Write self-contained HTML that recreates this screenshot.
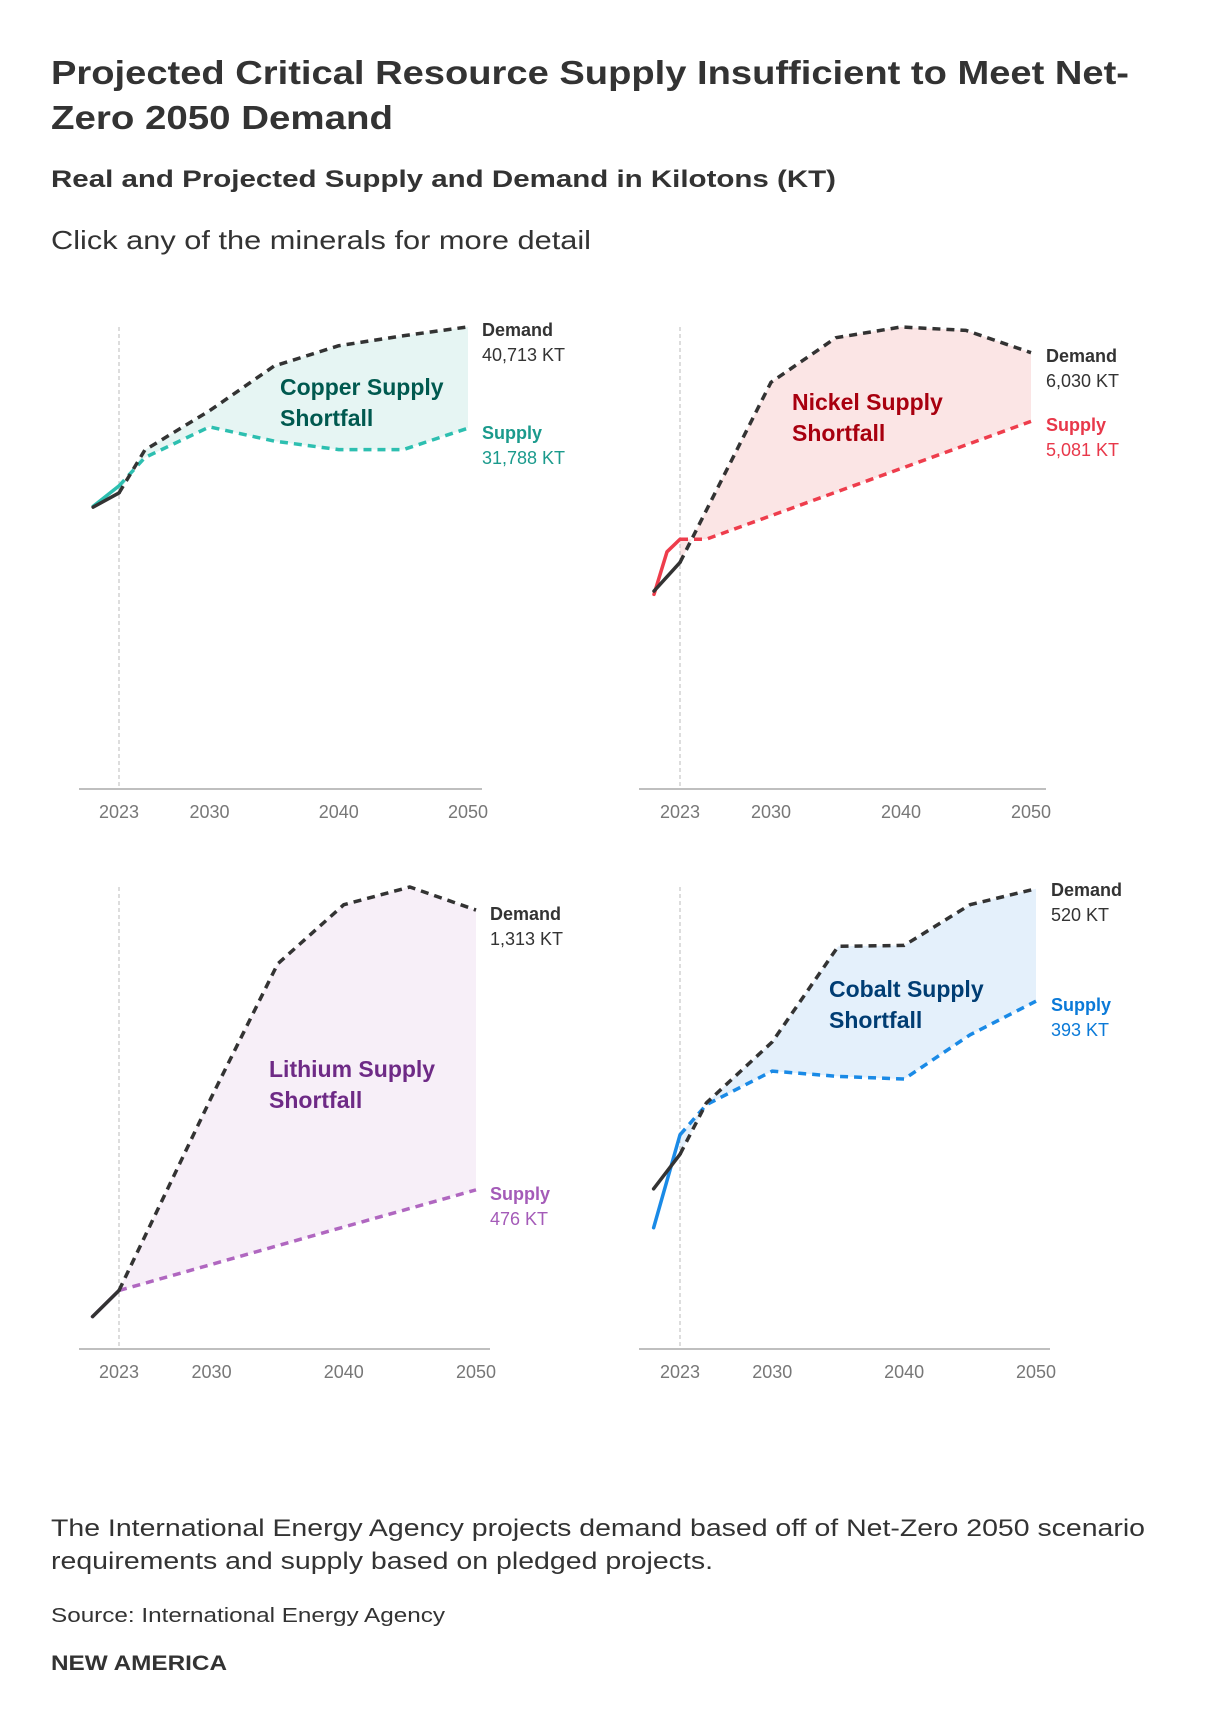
<!DOCTYPE html>
<html><head><meta charset="utf-8"><style>
body{margin:0;background:#fff;}
svg text{font-family:"Liberation Sans",sans-serif;}
</style></head><body>
<svg id="page" width="1220" height="1726" viewBox="0 0 1220 1726" xmlns="http://www.w3.org/2000/svg">
<rect width="1220" height="1726" fill="#fff"/>
<text x="51" y="84" font-size="33" font-weight="bold" fill="#333" textLength="1078" lengthAdjust="spacingAndGlyphs">Projected Critical Resource Supply Insufficient to Meet Net-</text>
<text x="51" y="129" font-size="33" font-weight="bold" fill="#333" textLength="342" lengthAdjust="spacingAndGlyphs">Zero 2050 Demand</text>
<text x="51" y="187" font-size="24" font-weight="bold" fill="#333" textLength="785" lengthAdjust="spacingAndGlyphs">Real and Projected Supply and Demand in Kilotons (KT)</text>
<text x="51" y="249" font-size="26" fill="#333" textLength="540" lengthAdjust="spacingAndGlyphs">Click any of the minerals for more detail</text>
<g id="charts"></g>
<text x="51" y="1536" font-size="24" fill="#333" textLength="1094" lengthAdjust="spacingAndGlyphs">The International Energy Agency projects demand based off of Net-Zero 2050 scenario</text>
<text x="51" y="1569" font-size="24" fill="#333" textLength="662" lengthAdjust="spacingAndGlyphs">requirements and supply based on pledged projects.</text>
<text x="51" y="1622" font-size="20" fill="#333" textLength="394" lengthAdjust="spacingAndGlyphs">Source: International Energy Agency</text>
<text x="51" y="1670" font-size="21" font-weight="bold" fill="#333" textLength="176" lengthAdjust="spacingAndGlyphs">NEW AMERICA</text>
</svg>
<script>
const tickYears = [2023, 2030, 2040, 2050];
const copperDemandYears = [2021, 2023, 2025, 2030, 2035, 2040, 2045, 2050];
const copperDemand = [24830, 26080, 29860, 33320, 37260, 39050, 39930, 40713];
const copperSupplyYears = [2021, 2023, 2025, 2030, 2035, 2040, 2045, 2050];
const copperSupply = [24900, 26700, 29200, 31900, 30650, 29900, 29900, 31788];
const nickelDemandYears = [2021, 2023, 2030, 2035, 2040, 2045, 2050];
const nickelDemand = [2735, 3131, 5621, 6237, 6385, 6338, 6030];
const nickelSupplyYears = [2021, 2022, 2023, 2025, 2050];
const nickelSupply = [2690, 3278, 3451, 3451, 5081];
const lithiumDemandYears = [2021, 2023, 2030, 2035, 2040, 2045, 2050];
const lithiumDemand = [97, 175, 754, 1152, 1329, 1382, 1313];
const lithiumSupplyYears = [2021, 2023, 2030, 2040, 2050];
const lithiumSupply = [97, 175, 253, 365, 476];
const cobaltDemandYears = [2021, 2023, 2025, 2030, 2035, 2040, 2045, 2050];
const cobaltDemand = [181, 220, 278, 347, 455, 456, 502, 520];
const cobaltSupplyYears = [2021, 2023, 2025, 2030, 2035, 2040, 2045, 2050];
const cobaltSupply = [137, 242, 276, 314, 308, 305, 355, 393];
const labelDemand = ["40,713 KT", "6,030 KT", "1,313 KT", "520 KT"];
const labelSupply = ["31,788 KT", "5,081 KT", "476 KT", "393 KT"];

const NS = "http://www.w3.org/2000/svg";
const root = document.getElementById('charts');
function mk(tag, attrs, parent) {
  const e = document.createElementNS(NS, tag);
  for (const k in attrs) e.setAttribute(k, attrs[k]);
  parent.appendChild(e);
  return e;
}
const panels = [
  {key:'copper', name:'Copper', dy:copperDemandYears, d:copperDemand, sy:copperSupplyYears, s:copperSupply, max:40700,
   x23:119, x50:468, ax0:79, ax1:482, top:327, bot:789, lx:482, ld:330, ls:433, sx:280, s1:387,
   fill:'#e6f5f3', line:'#2dbfb0', lab:'#1a9a8c', dark:'#00594f', li:0},
  {key:'nickel', name:'Nickel', dy:nickelDemandYears, d:nickelDemand, sy:nickelSupplyYears, s:nickelSupply, max:6385,
   x23:680, x50:1031, ax0:639, ax1:1046, top:327, bot:789, lx:1046, ld:356, ls:425, sx:792, s1:402,
   fill:'#fbe5e5', line:'#ee3d4c', lab:'#e8384a', dark:'#a8000f', li:1},
  {key:'lithium', name:'Lithium', dy:lithiumDemandYears, d:lithiumDemand, sy:lithiumSupplyYears, s:lithiumSupply, max:1382,
   x23:119, x50:476, ax0:79, ax1:490, top:887, bot:1349, lx:490, ld:914, ls:1194, sx:269, s1:1069,
   fill:'#f7eff8', line:'#b067c0', lab:'#a45bb8', dark:'#6e2a86', li:2},
  {key:'cobalt', name:'Cobalt', dy:cobaltDemandYears, d:cobaltDemand, sy:cobaltSupplyYears, s:cobaltSupply, max:522,
   x23:680, x50:1036, ax0:639, ax1:1050, top:887, bot:1349, lx:1051, ld:890, ls:1005, sx:829, s1:989,
   fill:'#e4f0fb', line:'#1a8ae6', lab:'#0b7ad8', dark:'#003d73', li:3}
];
function interp(years, vals, yr) {
  for (let i = 0; i < years.length - 1; i++) {
    if (yr >= years[i] && yr <= years[i+1]) {
      const t = (yr - years[i]) / (years[i+1] - years[i]);
      return vals[i] + t * (vals[i+1] - vals[i]);
    }
  }
  return vals[vals.length-1];
}
panels.forEach(p => {
  const xs = yr => p.x23 + (yr - 2023) * (p.x50 - p.x23) / 27;
  const ys = v => p.bot - v * (p.bot - p.top) / p.max;
  const g = mk('g', {}, root);
  
  
  const fy = Array.from(new Set(p.dy.concat(p.sy).filter(y => y >= 2023))).sort((a,b)=>a-b);
  let pts = fy.map(y => xs(y) + ',' + ys(interp(p.dy, p.d, y)));
  pts = pts.concat(fy.slice().reverse().map(y => xs(y) + ',' + ys(interp(p.sy, p.s, y))));
  const area = mk('polygon', {points: pts.join(' '), fill: p.fill}, g);
  
  
  const ref = mk('line', {x1: xs(2023), x2: xs(2023), y1: p.top, y2: p.bot, stroke: '#bbb', 'stroke-width': 1, 'stroke-dasharray': '4 3'}, g);
  
  
  const ax = mk('line', {x1: p.ax0, x2: p.ax1, y1: p.bot, y2: p.bot, stroke: '#aaa', 'stroke-width': 1.5}, g);
  
  
  tickYears.forEach(t => {
    const tx = mk('text', {x: xs(t), y: p.bot + 29, 'font-size': 18, fill: '#777', 'text-anchor': 'middle'}, g);
    
    
    tx.textContent = t;
  });
  function series(years, vals, color, nm) {
    const solid = [], dash = [];
    years.forEach((y, i) => {
      const pt = xs(y) + ',' + ys(vals[i]);
      if (y <= 2023) solid.push(pt);
      if (y >= 2023) dash.push(pt);
    });
    const sl = mk('polyline', {points: solid.join(' '), fill: 'none', stroke: color, 'stroke-width': 3.5, 'stroke-linejoin': 'round', 'stroke-linecap': 'round'}, g);
    
    
    const dl = mk('polyline', {points: dash.join(' '), fill: 'none', stroke: color, 'stroke-width': 3.5, 'stroke-dasharray': '8 6', 'stroke-linejoin': 'round'}, g);
    
    
  }
  series(p.sy, p.s, p.line, 'supply');
  series(p.dy, p.d, '#333', 'demand');
  const t1 = mk('text', {x: p.lx, y: p.ld + 6, 'font-size': 18, 'font-weight': 'bold', fill: '#333'}, g);
  
  
  t1.textContent = 'Demand';
  const t2 = mk('text', {x: p.lx, y: p.ld + 31, 'font-size': 18, fill: '#333'}, g);
  
  
  t2.textContent = labelDemand[p.li];
  const t3 = mk('text', {x: p.lx, y: p.ls + 6, 'font-size': 18, 'font-weight': 'bold', fill: p.lab}, g);
  
  
  t3.textContent = 'Supply';
  const t4 = mk('text', {x: p.lx, y: p.ls + 31, 'font-size': 18, fill: p.lab}, g);
  
  
  t4.textContent = labelSupply[p.li];
  const s1 = mk('text', {x: p.sx, y: p.s1 + 8, 'font-size': 23, 'font-weight': 'bold', fill: p.dark}, g);
  
  
  s1.textContent = p.name + ' Supply';
  const s2 = mk('text', {x: p.sx, y: p.s1 + 39, 'font-size': 23, 'font-weight': 'bold', fill: p.dark}, g);
  
  
  s2.textContent = 'Shortfall';
});
</script>
</body></html>
